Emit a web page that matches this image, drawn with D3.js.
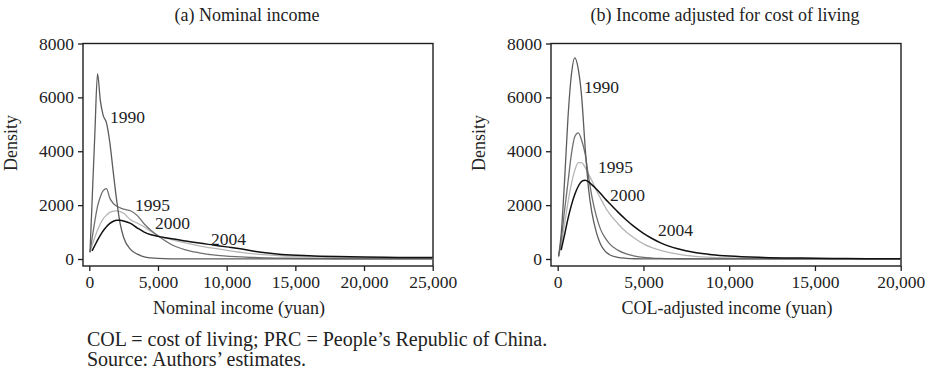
<!DOCTYPE html>
<html>
<head>
<meta charset="utf-8">
<script src="https://cdn.jsdelivr.net/npm/d3@7"></script>
<style>
  html, body { margin: 0; padding: 0; background: #fff; }
  svg { display: block; }
  text { font-family: "Liberation Serif", "Times New Roman", serif; fill: #222; }
</style>
</head>
<body>
<svg id="chart" width="930" height="375"></svg>
<script>
// ---- Panel (a): nominal income density estimates ----
const yearLabels = ["1990", "1995", "2000", "2004"];
const incomeGridA = [50, 200, 400, 600, 800, 1000, 1250, 1500, 1750, 2000, 2250, 2500, 3000, 3500, 4000, 4500, 5000, 6000, 7000, 8000, 9000, 10000, 11000, 12000, 13000, 14000, 16000, 18000, 20000, 22500, 25000];
const nominal1990 = [250, 2100, 4600, 6880, 5900, 5350, 5050, 4300, 3200, 2150, 1300, 800, 360, 180, 80, 40, 20, 8, 5, 3, 2, 2, 1, 1, 1, 1, 1, 1, 1, 1, 1];
const nominal1995 = [250, 750, 1400, 1950, 2300, 2530, 2610, 2250, 2060, 1960, 1900, 1850, 1790, 1610, 1300, 1060, 860, 530, 340, 230, 150, 110, 80, 55, 42, 32, 18, 10, 6, 3, 2];
const nominal2000 = [250, 500, 800, 1080, 1300, 1480, 1630, 1730, 1780, 1790, 1760, 1700, 1460, 1330, 1190, 1020, 870, 720, 600, 490, 400, 320, 250, 190, 150, 120, 80, 55, 40, 30, 25];
const nominal2004 = [null, 300, 500, 700, 880, 1040, 1200, 1320, 1400, 1440, 1440, 1410, 1320, 1150, 1000, 900, 840, 750, 670, 590, 520, 450, 380, 290, 220, 170, 120, 90, 70, 60, 55];

// ---- Panel (b): cost-of-living adjusted income density estimates ----
const incomeGridB = [50, 200, 400, 600, 800, 1000, 1200, 1400, 1600, 1800, 2000, 2250, 2500, 2750, 3000, 3500, 4000, 4500, 5000, 5500, 6000, 7000, 8000, 9000, 10000, 12000, 14000, 16000, 18000, 20000];
const adjusted1990 = [100, 900, 2900, 5250, 6850, 7470, 7050, 6000, 4150, 2600, 1700, 1000, 550, 300, 170, 60, 25, 10, 5, 3, 2, 1, 1, 1, 1, 1, 1, 1, 1, 1];
const adjusted1995 = [100, 700, 1800, 2850, 3900, 4550, 4680, 4400, 3900, 3050, 2300, 1600, 1100, 800, 580, 330, 190, 110, 60, 35, 20, 10, 5, 3, 2, 1, 1, 1, 1, 1];
const adjusted2000 = [100, 500, 1300, 2100, 2800, 3300, 3580, 3580, 3400, 3150, 2900, 2550, 2250, 1950, 1700, 1320, 1000, 760, 560, 420, 320, 180, 100, 60, 40, 20, 10, 6, 4, 3];
const adjusted2004 = [null, 330, 900, 1500, 2000, 2400, 2700, 2880, 2920, 2860, 2750, 2600, 2430, 2250, 2080, 1750, 1450, 1180, 950, 760, 600, 380, 240, 160, 110, 60, 35, 20, 12, 8];

// ---- Axis ticks and texts ----
const densityTicks = [0, 2000, 4000, 6000, 8000];
const incomeTicksA = [0, 5000, 10000, 15000, 20000, 25000];
const incomeTicksB = [0, 5000, 10000, 15000, 20000];
const panelTitles = ["(a) Nominal income", "(b) Income adjusted for cost of living"];
const xAxisTitles = ["Nominal income (yuan)", "COL-adjusted income (yuan)"];
const yAxisTitle = "Density";
const noteLines = ["COL = cost of living; PRC = People\u2019s Republic of China.", "Source: Authors\u2019 estimates."];

const lineColors = { "1990": "#5c5c5c", "1995": "#6f6f6f", "2000": "#b5b5b5", "2004": "#111111" };

const svg = d3.select("#chart");
const fmt = d3.format(",");

const panels = [
  {
    grid: incomeGridA,
    series: [nominal1990, nominal1995, nominal2000, nominal2004],
    ticks: incomeTicksA, xmax: 25000,
    frame: { left: 83, right: 433, top: 43.5, bottom: 266 },
    xRange: [89.3, 432.7],
    title: panelTitles[0], titleX: 247,
    xTitle: xAxisTitles[0], xTitleX: 239,
    yTitleX: 17,
    tickFmt: d => d === 0 ? "0" : fmt(d),
    labels: [ { x: 110, y: 123 }, { x: 135, y: 211 }, { x: 155, y: 229 }, { x: 211, y: 245 } ]
  },
  {
    grid: incomeGridB,
    series: [adjusted1990, adjusted1995, adjusted2000, adjusted2004],
    ticks: incomeTicksB, xmax: 20000,
    frame: { left: 551, right: 901, top: 43.5, bottom: 266 },
    xRange: [557.7, 900.7],
    title: panelTitles[1], titleX: 725,
    xTitle: xAxisTitles[1], xTitleX: 727,
    yTitleX: 485,
    tickFmt: d => d === 0 ? "0" : fmt(d),
    labels: [ { x: 584, y: 93 }, { x: 598, y: 173 }, { x: 610, y: 201 }, { x: 658, y: 236 } ]
  }
];

panels.forEach(p => {
  const x = d3.scaleLinear().domain([0, p.xmax]).range(p.xRange);
  const y = d3.scaleLinear().domain([0, 8000]).range([259, 43.5]);
  const g = svg.append("g");

  // panel title
  g.append("text").attr("x", p.titleX).attr("y", 21)
    .attr("text-anchor", "middle").style("font-size", "18px").text(p.title);

  // plot frame
  g.append("rect")
    .attr("x", p.frame.left).attr("y", p.frame.top)
    .attr("width", p.frame.right - p.frame.left)
    .attr("height", p.frame.bottom - p.frame.top)
    .attr("fill", "none").attr("stroke", "#1e1e1e").attr("stroke-width", 1.4);

  // y axis
  const yAxis = d3.axisLeft(y).tickValues(densityTicks).tickSize(5).tickPadding(4).tickFormat(d3.format("d"));
  const ya = g.append("g").attr("transform", `translate(${p.frame.left},0)`).call(yAxis);
  ya.select(".domain").remove();
  ya.selectAll(".tick line").attr("stroke", "#1e1e1e").attr("stroke-width", 1.3);
  ya.selectAll(".tick text").style("font-size", "17.5px")
    .style("font-family", "'Liberation Serif', serif").attr("fill", "#222");

  // x axis
  const xAxis = d3.axisBottom(x).tickValues(p.ticks).tickSize(5).tickPadding(5).tickFormat(p.tickFmt);
  const xa = g.append("g").attr("transform", `translate(0,${p.frame.bottom})`).call(xAxis);
  xa.select(".domain").remove();
  xa.selectAll(".tick line").attr("stroke", "#1e1e1e").attr("stroke-width", 1.3);
  xa.selectAll(".tick text").style("font-size", "17.5px")
    .style("font-family", "'Liberation Serif', serif").attr("fill", "#222");

  // axis titles
  g.append("text").attr("x", p.xTitleX).attr("y", 314)
    .attr("text-anchor", "middle").style("font-size", "18px").text(p.xTitle);
  g.append("text")
    .attr("transform", `translate(${p.yTitleX},${143}) rotate(-90)`)
    .attr("text-anchor", "middle").style("font-size", "18px").text(yAxisTitle);

  // density curves
  const line = d3.line()
    .defined(d => d[1] !== null)
    .x(d => x(d[0])).y(d => y(d[1]))
    .curve(d3.curveMonotoneX);

  // draw light curves first so the black 2004 line sits on top
  const order = [2, 1, 0, 3];
  order.forEach(i => {
    const pts = p.grid.map((v, k) => [v, p.series[i][k]]);
    g.append("path").datum(pts)
      .attr("d", line)
      .attr("fill", "none")
      .attr("stroke", lineColors[yearLabels[i]])
      .attr("stroke-width", i === 3 ? 1.5 : 1.3)
      .attr("stroke-linejoin", "round");
  });

  // year labels
  p.labels.forEach((l, i) => {
    g.append("text").attr("x", l.x).attr("y", l.y)
      .style("font-size", "17.5px").text(yearLabels[i]);
  });
});

// notes beneath the figure
svg.selectAll("text.note").data(noteLines).enter().append("text")
  .attr("class", "note")
  .attr("x", 87).attr("y", (d, i) => 346 + i * 20)
  .style("font-size", "20px").text(d => d);
</script>
</body>
</html>
